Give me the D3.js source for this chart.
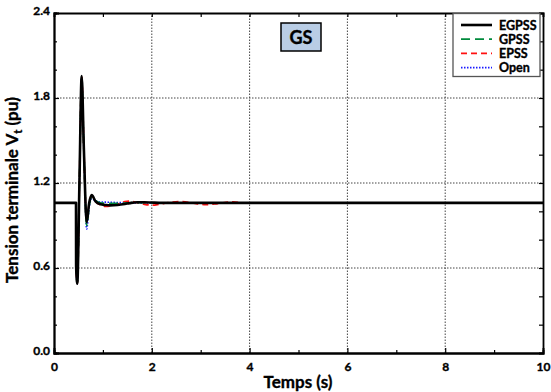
<!DOCTYPE html>
<html>
<head>
<meta charset="utf-8">
<script src="https://cdn.jsdelivr.net/npm/d3@7"></script>
<style>
  html, body { margin: 0; padding: 0; background: #fff; }
  svg { display: block; }
  text { font-family: Lato, "Open Sans", sans-serif; font-weight: bold; stroke: #000; stroke-width: 0.35px; }
</style>
</head>
<body>
<svg id="chart" width="551" height="392"></svg>
<script>
// Terminal voltage response after a fault, t in seconds, Vt in pu
const time   = [0, 0.45, 0.452, 0.476, 0.52, 0.566, 0.61, 0.668, 0.72, 0.771, 0.85, 0.95, 1.05, 1.15, 1.3, 1.45, 1.55, 1.7, 1.85, 2.0, 2.15, 2.35, 2.6, 2.85, 3.1, 3.35, 3.65, 3.95, 4.3, 5, 10];
const egpss  = [1.06, 1.06, 0.62, 0.49, 1.20, 1.955, 1.45, 0.925, 1.06, 1.115, 1.07, 1.05, 1.045, 1.042, 1.045, 1.052, 1.058, 1.064, 1.064, 1.062, 1.06, 1.06, 1.06, 1.06, 1.06, 1.06, 1.06, 1.06, 1.06, 1.06, 1.06];
const gpss   = [1.06, 1.06, 0.62, 0.49, 1.20, 1.94, 1.44, 0.90, 1.04, 1.10, 1.075, 1.06, 1.057, 1.056, 1.056, 1.058, 1.06, 1.061, 1.061, 1.06, 1.06, 1.06, 1.06, 1.06, 1.06, 1.06, 1.06, 1.06, 1.06, 1.06, 1.06];
const epss   = [1.06, 1.06, 0.62, 0.49, 1.20, 1.95, 1.45, 0.92, 1.06, 1.11, 1.07, 1.045, 1.035, 1.038, 1.05, 1.068, 1.072, 1.062, 1.05, 1.044, 1.05, 1.062, 1.069, 1.058, 1.047, 1.055, 1.066, 1.058, 1.06, 1.06, 1.06];
const open   = [1.06, 1.06, 0.62, 0.49, 1.20, 1.94, 1.44, 0.875, 1.03, 1.09, 1.075, 1.066, 1.065, 1.064, 1.062, 1.061, 1.06, 1.06, 1.06, 1.06, 1.06, 1.06, 1.06, 1.06, 1.06, 1.06, 1.06, 1.06, 1.06, 1.06, 1.06];

const seriesNames = ["EGPSS", "GPSS", "EPSS", "Open"];
const seriesValues = [egpss, gpss, epss, open];
const seriesColors = ["#000000", "#008a3c", "#ff1010", "#1a1aff"];
const seriesWidths = [2.6, 1.8, 1.8, 1.6];
const seriesDashes = [null, "9,5", "6,4", "1.5,1.5"];

const xTicks = [0, 2, 4, 6, 8, 10];
const xMinorTicks = [1, 3, 5, 7, 9];
const yTicks = [0.0, 0.6, 1.2, 1.8, 2.4];
const yMinorTicks = [0.2, 0.4, 0.8, 1.0, 1.4, 1.6, 2.0, 2.2];

const svg = d3.select("#chart");
const margin = { left: 54, right: 8, top: 13, bottom: 39 };
const W = 551, H = 392;
const x = d3.scaleLinear().domain([0, 10]).range([margin.left, W - margin.right]);
const y = d3.scaleLinear().domain([0, 2.4]).range([H - margin.bottom, margin.top]);

// Dotted grid
const grid = svg.append("g").attr("stroke", "#444").attr("stroke-width", 1).attr("stroke-dasharray", "1.5,1.5");
grid.selectAll("line.gx").data(xTicks.slice(1, -1)).join("line")
  .attr("x1", d => x(d)).attr("x2", d => x(d)).attr("y1", y(0)).attr("y2", y(2.4));
grid.selectAll("line.gy").data(yTicks.slice(1, -1)).join("line")
  .attr("y1", d => y(d)).attr("y2", d => y(d)).attr("x1", x(0)).attr("x2", x(10));

// Curves: coloured traces under the black EGPSS trace
const line = vals => d3.line().x((d, i) => x(time[i])).y(d => y(d)).curve(d3.curveMonotoneX)(vals);
const plot = svg.append("g");
[3, 2, 1, 0].forEach(k => {
  plot.append("path")
    .attr("d", line(seriesValues[k]))
    .attr("fill", "none")
    .attr("stroke", seriesColors[k])
    .attr("stroke-width", seriesWidths[k])
    .attr("stroke-dasharray", seriesDashes[k])
    .attr("stroke-linejoin", "round");
});

// Axes on all four sides with inward ticks
const axes = svg.append("g");
const tickFmt = d3.format(".1f");
axes.append("g").attr("transform", `translate(0,${y(0)})`)
  .call(d3.axisBottom(x).tickValues(xTicks).tickSize(-5).tickPadding(9).tickFormat(d3.format("d")));
axes.append("g").attr("transform", `translate(0,${y(0)})`)
  .call(d3.axisBottom(x).tickValues(xMinorTicks).tickSize(-3).tickFormat(""));
const left = axes.append("g").attr("transform", `translate(${x(0)},0)`)
  .call(d3.axisLeft(y).tickValues(yTicks).tickSize(-5).tickPadding(4).tickFormat(tickFmt));
axes.append("g").attr("transform", `translate(${x(0)},0)`)
  .call(d3.axisLeft(y).tickValues(yMinorTicks).tickSize(-3).tickFormat(""));
axes.append("g").attr("transform", `translate(0,${y(2.4)})`)
  .call(d3.axisTop(x).tickValues(xTicks.concat(xMinorTicks)).tickSize(-4).tickFormat(""));
axes.append("g").attr("transform", `translate(${x(10)},0)`)
  .call(d3.axisRight(y).tickValues(yTicks.concat(yMinorTicks)).tickSize(-4).tickFormat(""));
axes.selectAll(".domain").attr("stroke", "#000").attr("stroke-width", 1.8);
axes.selectAll(".tick line").attr("stroke", "#000").attr("stroke-width", 1.2);
axes.selectAll("text").attr("font-size", 12).attr("font-family", "Lato, sans-serif").attr("font-weight", "bold").attr("fill", "#000");
left.selectAll("text").attr("dy", "0.1em");

// Axis titles
svg.append("text")
  .attr("x", 298).attr("y", 388).attr("text-anchor", "middle")
  .attr("font-size", 17).text("Temps (s)");
const yt = svg.append("text")
  .attr("transform", `translate(18,190) rotate(-90)`)
  .attr("text-anchor", "middle").attr("font-size", 17);
yt.append("tspan").text("Tension terminale V");
yt.append("tspan").attr("font-size", 11).attr("dy", 4).text("t");
yt.append("tspan").attr("dy", -4).text(" (pu)");

// Case label
const gs = svg.append("g");
gs.append("rect").attr("x", 281).attr("y", 23).attr("width", 40).attr("height", 28)
  .attr("fill", "#b9cde5").attr("stroke", "#000").attr("stroke-width", 1.5);
gs.append("text").attr("x", 301).attr("y", 43.5).attr("text-anchor", "middle")
  .attr("font-size", 18).text("GS");

// Legend
const lg = svg.append("g");
lg.append("rect").attr("x", 453).attr("y", 13.5).attr("width", 87).attr("height", 63)
  .attr("fill", "#fff").attr("stroke", "#555").attr("stroke-width", 1.3);
seriesNames.forEach((name, k) => {
  const ly = 25 + k * 14.2;
  lg.append("line").attr("x1", 461).attr("x2", 492).attr("y1", ly).attr("y2", ly)
    .attr("stroke", seriesColors[k]).attr("stroke-width", k === 0 ? 2.6 : 1.8)
    .attr("stroke-dasharray", seriesDashes[k]);
  lg.append("text").attr("x", 499).attr("y", ly + 4.5).attr("font-size", 12.5).text(name);
});
</script>
</body>
</html>
